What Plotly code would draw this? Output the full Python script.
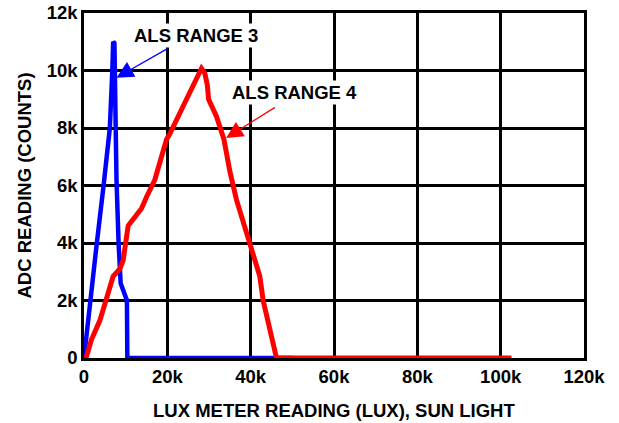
import plotly.graph_objects as go

# ALS RANGE 3 (blue) - lux in thousands, counts in thousands
r3_lux = [0.0, 0.3, 1.8, 2.0, 3.0, 4.7, 6.2, 6.8, 7.0, 7.3, 7.5, 7.8, 8.3, 8.6, 8.8, 10.3, 10.4, 50.0]
r3_adc = [0.0, 0.4, 2.6, 2.7, 3.9, 6.0, 8.0, 10.0, 11.0, 10.95, 8.5, 6.2, 4.0, 3.0, 2.6, 2.0, 0.0, 0.0]

# ALS RANGE 4 (red)
r4_lux = [0.5, 1.8, 3.8, 5.0, 7.0, 8.6, 9.4, 10.6, 13.8, 15.0, 17.0, 19.8, 20.6, 24.6, 27.8, 28.2,
          29.0, 29.6, 29.9, 31.8, 33.6, 35.0, 36.6, 39.8, 42.2, 43.0, 44.6, 46.2, 102.6]
r4_adc = [0.0, 0.64, 1.3, 1.9, 2.84, 3.1, 3.4, 4.6, 5.2, 5.6, 6.2, 7.6, 7.8, 9.0, 10.0, 10.07,
          9.9, 9.5, 9.0, 8.4, 7.6, 6.5, 5.5, 4.0, 2.84, 2.0, 1.0, 0.0, 0.0]

x_ticks = [0, 20, 40, 60, 80, 100, 120]
x_ticktext = ["0", "20k", "40k", "60k", "80k", "100k", "120k"]
y_ticks = [0, 2, 4, 6, 8, 10, 12]
y_ticktext = ["0", "2k", "4k", "6k", "8k", "10k", "12k"]

FONT = "Liberation Sans, Arial, sans-serif"

fig = go.Figure()
fig.add_trace(go.Scatter(x=r3_lux, y=r3_adc, mode="lines",
                         line=dict(color="#0000FF", width=4.5), name="ALS RANGE 3"))
fig.add_trace(go.Scatter(x=r4_lux, y=r4_adc, mode="lines",
                         line=dict(color="#FF0000", width=5), name="ALS RANGE 4"))

axis_common = dict(showgrid=True, gridcolor="black", gridwidth=2.5,
                   showline=True, linecolor="black", linewidth=2.5, mirror=True,
                   zeroline=False, ticks="", automargin=False,
                   tickfont=dict(family=FONT, size=18.5, color="black", weight="bold"))

fig.update_xaxes(range=[0, 120], tickvals=x_ticks, ticktext=x_ticktext, **axis_common)
fig.update_yaxes(range=[0, 12], tickvals=y_ticks, ticktext=y_ticktext, **axis_common)

title_font = dict(family=FONT, size=18.5, color="black", weight="bold")
fig.add_annotation(xref="paper", yref="paper", x=0.5, y=0, yanchor="middle", yshift=-52,
                   text="LUX METER READING (LUX), SUN LIGHT", showarrow=False, font=title_font)
fig.add_annotation(xref="paper", yref="paper", x=0, y=0.5, xanchor="center", xshift=-60,
                   textangle=-90, text="ADC READING (COUNTS)", showarrow=False, font=title_font)

ann_font = dict(family=FONT, size=18.5, color="black", weight="bold")
fig.add_annotation(x=26.9, y=11.23, text="ALS RANGE 3", showarrow=False, font=ann_font,
                   bgcolor="white", borderpad=1)
fig.add_annotation(x=50.4, y=9.24, text="ALS RANGE 4", showarrow=False, font=ann_font,
                   bgcolor="white", borderpad=1)
fig.add_annotation(x=7.8, y=9.75, ax=20.5, ay=10.8, axref="x", ayref="y", text="",
                   showarrow=True, arrowhead=2, arrowsize=2.6, arrowwidth=1.3, arrowcolor="#0000FF")
fig.add_annotation(x=34.1, y=7.65, ax=46.2, ay=8.75, axref="x", ayref="y", text="",
                   showarrow=True, arrowhead=2, arrowsize=2.6, arrowwidth=1.3, arrowcolor="#FF0000")

fig.update_layout(width=619, height=423, showlegend=False,
                  margin=dict(l=84, r=35, t=13, b=64.5, autoexpand=False),
                  paper_bgcolor="white", plot_bgcolor="white")

fig.write_html("out.html", config={"displayModeBar": False},
               post_script="document.body.style.margin='0px';")
